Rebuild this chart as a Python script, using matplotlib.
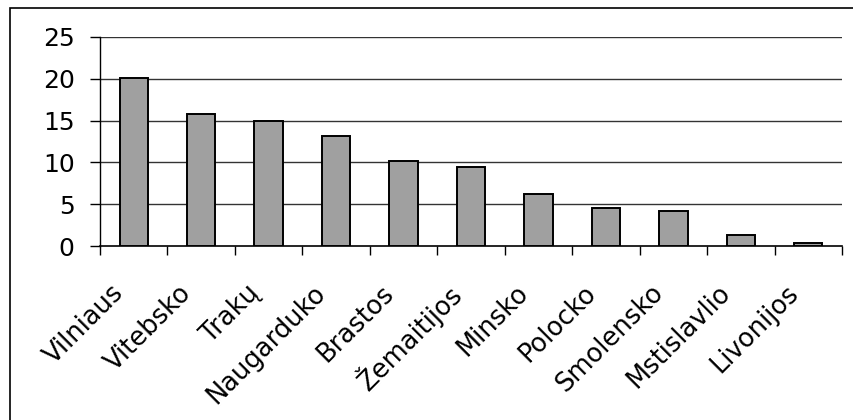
import matplotlib
matplotlib.use("Agg")
import matplotlib.pyplot as plt
from matplotlib.patches import Rectangle
import numpy as np

categories = ["Vilniaus", "Vitebsko", "Trakų", "Naugarduko", "Brastos", "Žemaitijos",
              "Minsko", "Polocko", "Smolensko", "Mstislavlio", "Livonijos"]
values = [20.1, 15.8, 15.0, 13.2, 10.2, 9.4, 6.2, 4.5, 4.2, 1.3, 0.35]
yticks = [0, 5, 10, 15, 20, 25]

plt.rcParams['font.family'] = ['DejaVu Sans']

W, H = 854, 420
fig = plt.figure(figsize=(W / 100, H / 100), dpi=100)
fig.patch.set_facecolor("white")

# outer chart border (left and top visible; right/bottom cropped)
fig.patches.append(Rectangle((10 / W, -0.05), 2.0, (H - 8) / H + 0.05, transform=fig.transFigure,
                             fill=False, edgecolor="black", linewidth=1.2, zorder=0))

ax = fig.add_axes([100 / W, 1 - 246 / H, (842 - 100) / W, (246 - 37) / H])
x = np.arange(len(categories))
ax.bar(x, values, width=0.42, color="#a0a0a0", edgecolor="black", linewidth=1.4, zorder=3)

ax.set_xlim(-0.5, len(categories) - 0.5)
ax.set_ylim(0, 25)
ax.set_yticks(yticks)
ax.set_yticklabels([str(v) for v in yticks], fontsize=18)
for v in yticks[1:]:
    ax.axhline(v, color="#333333", linewidth=1.0, zorder=1)

ax.set_xticks(np.arange(len(categories) + 1) - 0.5, minor=False)
ax.set_xticklabels([])
ax.tick_params(axis="x", direction="out", length=6.5, width=1, color="black")
ax.tick_params(axis="y", direction="out", length=7.2, width=1, color="black", pad=11)

for i, c in enumerate(categories):
    ax.annotate(c, xy=(i, 0), xycoords="data", xytext=(-10, -31), textcoords="offset points",
                rotation=45, ha="right", va="center", rotation_mode="anchor", fontsize=18.5)

for s in ["top", "right"]:
    ax.spines[s].set_visible(False)
ax.spines["left"].set_linewidth(1.0)
ax.spines["bottom"].set_linewidth(1.2)

fig.savefig("out.png", dpi=100)
